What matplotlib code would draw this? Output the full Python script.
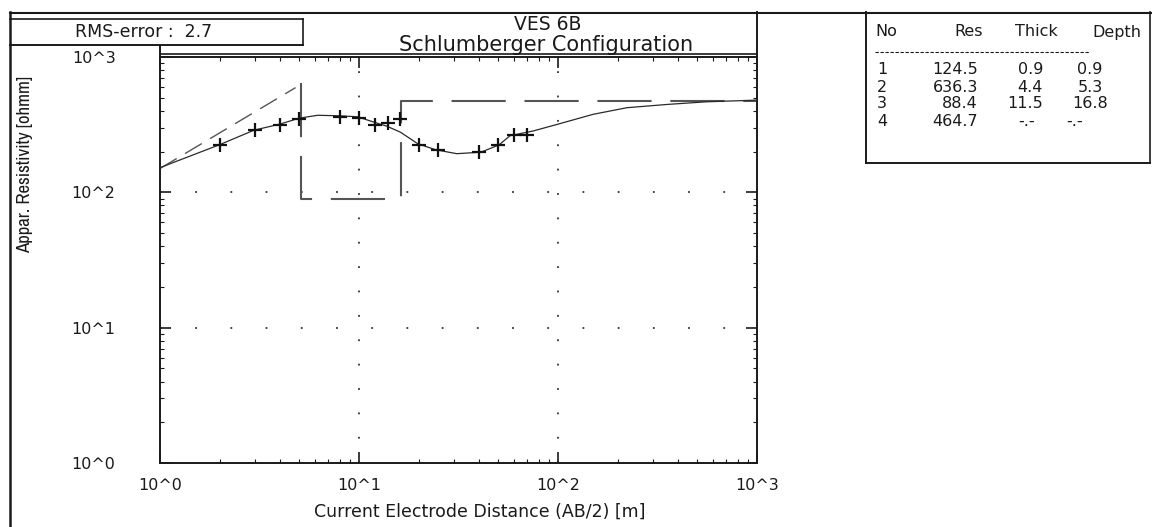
import matplotlib
matplotlib.use('Agg')
import matplotlib.pyplot as plt
from matplotlib.lines import Line2D
from matplotlib import font_manager

W, H = 1152, 527

# measured apparent resistivity (crosses)
ab2_obs = [2, 3, 4, 5, 8, 10, 12, 14, 16, 20, 25, 40, 50, 60, 70]
rho_obs = [224, 288, 314, 351, 363, 357, 315, 323, 347, 224, 204, 198, 223, 264, 264]

# calculated curve (solid)
ab2_fit = [1.0, 1.19, 1.98, 2.97, 4.0, 5.0, 6.2, 7.8, 9.8, 11.9, 13.8, 16.1, 19.8,
           24.4, 31, 41, 50.5, 57.4, 75, 100, 150, 222, 353, 561, 1000]
rho_fit = [152, 168, 224, 288, 319, 353, 371, 368, 362, 330, 308, 279, 228,
           206, 193, 198, 224, 262, 284, 319, 377, 422, 446, 467, 480]

# layer model, step line (dashed)
model_x = [5.1, 5.1, 16.3, 16.3, 1000]
model_y = [640, 89, 89, 475, 475]

# sloped dashed line on the left
slope_x = [1.0, 4.8]
slope_y = [150, 594]

decades = [1, 10, 100, 1000]
decade_labels = ['10^0', '10^1', '10^2', '10^3']

layer_no = ['1', '2', '3', '4']
layer_res = ['124.5', '636.3', '88.4', '464.7']
layer_thick = ['0.9', '4.4', '11.5', '-.-']
layer_depth = ['0.9', '5.3', '16.8', '-.-']

ink = '#1a1a1a'
plt.rcParams['font.family'] = ['DejaVu Sans']

# look for a narrow font for the y label (the original one is condensed)
narrow = None
for f in font_manager.fontManager.ttflist:
    if 'Narrow' in f.name or 'Condensed' in f.name:
        narrow = (f.name, 'normal', 13.5)
        break
if narrow is None:
    for f in font_manager.fontManager.ttflist:
        if f.name == 'DejaVu Sans' and f.stretch == 'condensed' and f.style == 'normal':
            narrow = ('DejaVu Sans', 'condensed', 11.5)
            break
if narrow is None:
    narrow = ('DejaVu Sans', 'normal', 10)


def fx(px):
    return px / W


def fy(py):
    return 1 - py / H


def line(fig, xs, ys, lw=1.3, **kw):
    fig.add_artist(Line2D([fx(x) for x in xs], [fy(y) for y in ys],
                          transform=fig.transFigure, color=kw.pop('color', ink),
                          lw=lw, **kw))


fig = plt.figure(figsize=(W / 100, H / 100), dpi=100)
ax = fig.add_axes([fx(160), fy(463), fx(757) - fx(160), fy(57) - fy(463)])
ax.set_xscale('log')
ax.set_yscale('log')
ax.set_xlim(1, 1000)
ax.set_ylim(1, 1000)

# dotted grid at the decades
for d in decades[1:-1]:
    ax.axhline(d, color='#333333', lw=1.3, ls=(0, (1, 18.5)), zorder=1)
    ax.axvline(d, color='#333333', lw=1.3, ls=(0, (1, 12.5)), zorder=1)

ax.plot(slope_x, slope_y, color='#555555', lw=1.0, ls=(0, (14, 7)), zorder=2)
ax.plot(model_x, model_y, color='#555555', lw=1.5, ls=(0, (26, 9)), zorder=2)
ax.plot(ab2_fit, rho_fit, color='#2a2a2a', lw=0.9, zorder=3)
ax.plot(ab2_obs, rho_obs, ls='none', marker='+', ms=10, mew=1.6,
        color='#111111', zorder=4)

ax.set_xticks(decades, decade_labels)
ax.set_yticks(decades, decade_labels)
ax.tick_params(which='major', direction='in', length=8, width=1.2,
               top=True, right=True, labelsize=11.5, colors=ink)
ax.tick_params(which='minor', direction='in', length=3, width=0.8,
               top=True, right=True, colors=ink)
ax.tick_params(axis='y', pad=32)
ax.tick_params(axis='x', pad=11)
for s in ax.spines.values():
    s.set_linewidth(1.4)
    s.set_color(ink)

# frame and boxes around the plot
line(fig, [10, 1152], [12.5, 12.5], lw=1.5)
line(fig, [10, 10], [12, 527], lw=1.8)
line(fig, [757, 757], [12, 57], lw=1.4)
line(fig, [10, 303], [19, 19], lw=1.2)
line(fig, [303, 303], [19, 45], lw=1.2)
line(fig, [10, 303], [45, 45], lw=1.4)
line(fig, [160, 160], [45, 57], lw=1.4)
line(fig, [160, 757], [54, 54], lw=1.2)

fig.text(fx(144), fy(32), 'RMS-error :  2.7', ha='center', va='center',
         fontsize=12.5, color=ink)
fig.text(fx(548), fy(25), 'VES 6B', ha='center', va='center', fontsize=13.5, color=ink)
fig.text(fx(546), fy(45), 'Schlumberger Configuration', ha='center', va='center',
         fontsize=15, color=ink)
fig.text(fx(480), fy(512), 'Current Electrode Distance (AB/2) [m]', ha='center',
         va='center', fontsize=12.5, color=ink)
fig.text(fx(25), fy(164), 'Appar. Resistivity [ohmm]', ha='center', va='center',
         rotation=90, fontsize=narrow[2], family=[narrow[0], 'DejaVu Sans'],
         stretch=narrow[1], color=ink)

# layer table on the right
line(fig, [866, 866], [12, 163], lw=1.4)
line(fig, [866, 1150], [163, 163], lw=1.4)
line(fig, [1150, 1150], [12, 163], lw=1.2)
line(fig, [875, 1090], [52, 52], lw=0.8, ls=(0, (3, 1.5)))
fs = 11.5
fig.text(fx(875), fy(32), 'No', ha='left', va='center', fontsize=fs, color=ink)
fig.text(fx(983), fy(32), 'Res', ha='right', va='center', fontsize=fs, color=ink)
fig.text(fx(1036), fy(32), 'Thick', ha='center', va='center', fontsize=fs, color=ink)
fig.text(fx(1117), fy(32), 'Depth', ha='center', va='center', fontsize=fs, color=ink)
row_y = [70, 87, 104, 121]
for i, yy in enumerate(row_y):
    fig.text(fx(882), fy(yy), layer_no[i], ha='center', va='center', fontsize=fs, color=ink)
    fig.text(fx(978), fy(yy), layer_res[i], ha='right', va='center', fontsize=fs, color=ink)
    if layer_thick[i] == '-.-':
        fig.text(fx(1027), fy(yy), layer_thick[i], ha='center', va='center', fontsize=fs, color=ink)
    else:
        fig.text(fx(1043), fy(yy), layer_thick[i], ha='right', va='center', fontsize=fs, color=ink)
    xd = 1075 if layer_depth[i] == '-.-' else 1090
    fig.text(fx(xd), fy(yy), layer_depth[i], ha='center', va='center', fontsize=fs, color=ink)

fig.savefig('out.png', dpi=100)
